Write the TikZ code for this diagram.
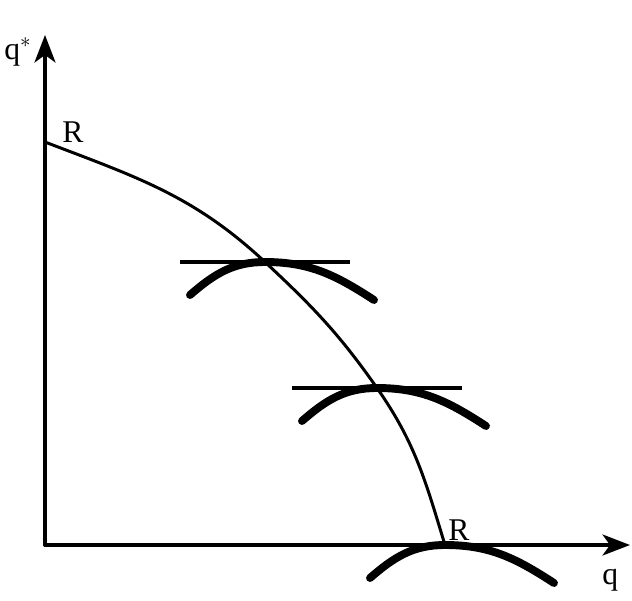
\documentclass[tikz,border=0pt]{standalone}
\usepackage{fontspec}
\setmainfont{Liberation Serif}
\usetikzlibrary{arrows.meta}

\begin{document}
\begin{tikzpicture}[x=0.02cm, y=0.02cm, line cap=round, line join=round,
  axis/.style={line width=2pt, -{Stealth[length=0.55cm, width=0.42cm, inset=0.15cm]}},
  ridge/.style={line width=1.7pt},
  iso/.style={line width=4.5pt},
  flat/.style={line width=1.8pt, line cap=butt},
  lbl/.style={font=\fontsize{18}{20}\selectfont, inner sep=0pt, anchor=base west}]

\useasboundingbox (0,0) rectangle (632,600);

% Axes
\coordinate (O) at (45,55);
\coordinate (qtop) at (45,565);
\coordinate (qend) at (630,55);
\draw[axis] (O) -- (qtop);
\draw[axis] (O) -- (qend);

% Axis labels
\node[lbl] (qstar) at (4,541) {q$^{*}$};
\node[lbl] (qlab) at (602,16) {q};

% Tangency points
\coordinate (Rtop) at (45,458);
\coordinate (T1) at (265,338);
\coordinate (T2) at (377,212);
\coordinate (T3) at (445,55);

% Curve R
\draw[ridge] (Rtop) to[out=-21,in=137] (T1) to[out=-43,in=125] (T2)
  to[out=-55,in=107] (T3);
\node[lbl] (Rone) at (62,458) {R};
\node[lbl] (Rtwo) at (448,60) {R};

% Horizontal tangents
\draw[flat] (T1) ++(-85,0) -- ++(170,0);
\draw[flat] (T2) ++(-85,0) -- ++(170,0);

% Indifference curves
\foreach \t in {T1,T2,T3}
  \draw[iso] (\t) ++(-75,-33) to[out=41,in=180] (\t) to[out=0,in=147] ++(109,-38);

\end{tikzpicture}
\end{document}
